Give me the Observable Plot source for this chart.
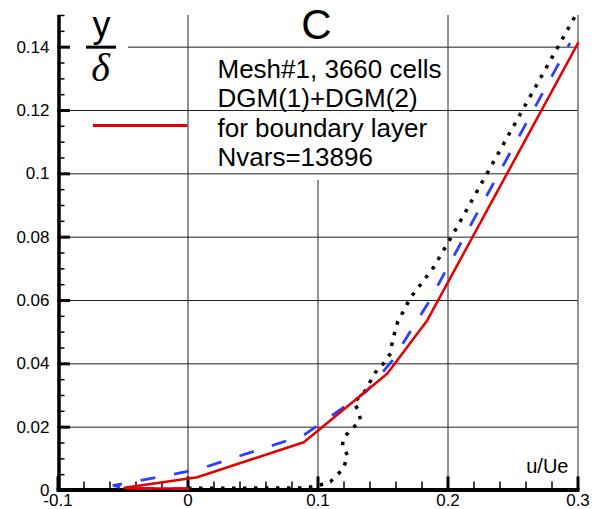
<!DOCTYPE html>
<html>
<head>
<meta charset="utf-8">
<script src="https://cdn.jsdelivr.net/npm/d3@7"></script>
<script src="https://cdn.jsdelivr.net/npm/@observablehq/plot@0.6"></script>
<style>
html,body{margin:0;padding:0;background:#fff;overflow:hidden}
#chart svg{display:block}
</style>
</head>
<body>
<div id="chart"></div>
<script>
// ---- data ----
const redU = [0.0, -0.046, -0.0488, 0.0071, 0.0891, 0.1532, 0.184, 0.3];
const redY = [0.0006, 0.0006, 0.0009, 0.0042, 0.01525, 0.03685, 0.0537, 0.1413];

const blueU = [0.0, -0.05, -0.0571, 0.0073, 0.0888, 0.1373, 0.1573, 0.185, 0.2938];
const blueY = [0.0006, 0.0007, 0.0016, 0.0066, 0.0174, 0.0313, 0.0411, 0.0594, 0.1413];

const blackU = [0.0, 0.0904, 0.1004, 0.1096, 0.1196, 0.1227, 0.1188, 0.1196, 0.1265, 0.1327, 0.1312, 0.1273, 0.135, 0.1442, 0.1504, 0.1558, 0.1573, 0.1612, 0.1712, 0.1888, 0.2042, 0.2981];
const blackY = [0.0007, 0.0008, 0.0016, 0.0028, 0.0069, 0.0111, 0.0142, 0.0167, 0.0196, 0.0221, 0.0253, 0.0278, 0.0306, 0.0373, 0.0401, 0.0433, 0.0474, 0.0531, 0.0609, 0.0704, 0.0812, 0.15];

const xTicks = [-0.1, 0, 0.1, 0.2, 0.3];
const yTicks = [0, 0.02, 0.04, 0.06, 0.08, 0.1, 0.12, 0.14];
const legendLines = ["Mesh#1, 3660 cells", "DGM(1)+DGM(2)", "for boundary layer", "Nvars=13896"];
const titleText = "C";
const xLabel = "u/Ue";
const yLabelTop = "y";
const yLabelBottom = "\u03B4";

// ---- layout ----
const W = 605, H = 509, mL = 57.5, mR = 27.5, mT = 15, mB = 19;
const plotW = W - mL - mR, plotH = H - mT - mB;
const xDomain = [-0.1, 0.3], yDomain = [0, 0.15];
const sans = "'Liberation Sans', Arial, Helvetica, sans-serif";
const serif = "'Liberation Serif', 'Times New Roman', serif";

// pixel helpers for annotations only
const invX = px => xDomain[0] + (px - mL) / plotW * (xDomain[1] - xDomain[0]);
const invY = py => yDomain[0] + (H - mB - py) / plotH * (yDomain[1] - yDomain[0]);

const xMinor = d3.range(-10, 31, 2).filter(v => v % 10 !== 0).map(v => v / 100);
const yMinor = d3.range(0, 151, 5).filter(v => v % 20 !== 0).map(v => v / 1000);

const toRows = (us, ys) => us.map((u, i) => ({u, y: ys[i]}));
const red = toRows(redU, redY), blue = toRows(blueU, blueY), black = toRows(blackU, blackY);

// text helper: place baseline at absolute pixel (X, B)
function label(str, X, B, size, opts = {}) {
  return Plot.text([str], {
    frameAnchor: "top-left", lineAnchor: "middle", text: d => d,
    dx: X - mL, dy: B - 0.32 * size - mT,
    fontSize: size, fontFamily: sans, fill: "#000", ...opts
  });
}

const chart = Plot.plot({
  width: W, height: H,
  marginLeft: mL, marginRight: mR, marginTop: mT, marginBottom: mB,
  style: {fontFamily: sans, background: "#fff", color: "#000", overflow: "visible"},
  x: {domain: xDomain, label: null},
  y: {domain: yDomain, label: null},
  marks: [
    // grid
    Plot.ruleY(yTicks.filter(v => v > 0 && v < 0.14), {y: d => d, stroke: "#222", strokeWidth: 1}),
    Plot.ruleY([0.14], {y: d => d, x1: invX(128), x2: 0.3, stroke: "#222", strokeWidth: 1}),
    Plot.ruleX([0, 0.2, 0.3], {x: d => d, stroke: "#222", strokeWidth: 1}),
    Plot.ruleX([0.1], {x: d => d, y1: 0, y2: invY(180), stroke: "#222", strokeWidth: 1}),
    // axis lines
    Plot.ruleX([-0.1], {x: d => d, stroke: "#000", strokeWidth: 3.5, dx: 1}),
    Plot.ruleY([0], {y: d => d, stroke: "#000", strokeWidth: 4, dy: -0.5, insetLeft: -1, insetRight: -2}),
    // ticks (inward)
    Plot.tickY(yTicks, {y: d => d, stroke: "#000", strokeWidth: 3, insetRight: plotW - 12.5}),
    Plot.tickY(yMinor, {y: d => d, stroke: "#000", strokeWidth: 1.5, insetRight: plotW - 7}),
    Plot.tickX(xTicks, {x: d => d, stroke: "#000", strokeWidth: 3, insetTop: plotH - 13.5}),
    Plot.tickX(xMinor, {x: d => d, stroke: "#000", strokeWidth: 1.5, insetTop: plotH - 8.5}),
    // curves
    Plot.line(black, {x: "u", y: "y", stroke: "#000", strokeWidth: 3.5, strokeDasharray: "3.5,7.5", strokeLinecap: "butt"}),
    Plot.line(blue, {x: "u", y: "y", stroke: "#2e3dff", strokeWidth: 2.8, strokeDasharray: "15,19", strokeLinecap: "butt"}),
    Plot.line(red, {x: "u", y: "y", stroke: "#e60000", strokeWidth: 2.5}),
    // tick labels
    Plot.axisY({ticks: yTicks, tickSize: 0, tickPadding: 8.5, tickFormat: d => String(d), fontSize: 17, label: null}),
    Plot.axisX({ticks: xTicks, tickSize: 0, tickPadding: 3, tickFormat: d => String(d), fontSize: 17, label: null}),
    // annotations
    label(titleText, 316, 38, 42, {textAnchor: "middle"}),
    label(yLabelTop, 101, 36, 36, {textAnchor: "middle"}),
    Plot.ruleY([0.14], {y: d => d, x1: invX(86), x2: invX(116), stroke: "#000", strokeWidth: 3}),
    label(yLabelBottom, 100, 80, 40, {textAnchor: "middle", fontFamily: serif, fontStyle: "italic"}),
    ...legendLines.map((t, i) => label(t, 217, [77, 106.5, 136, 165.5][i], 26, {textAnchor: "start"})),
    Plot.ruleY([invY(125)], {y: d => d, x1: invX(93), x2: invX(187.5), stroke: "#e60000", strokeWidth: 2.8}),
    label(xLabel, 568, 472, 20, {textAnchor: "end"})
  ]
});
document.getElementById("chart").appendChild(chart);
</script>
</body>
</html>
